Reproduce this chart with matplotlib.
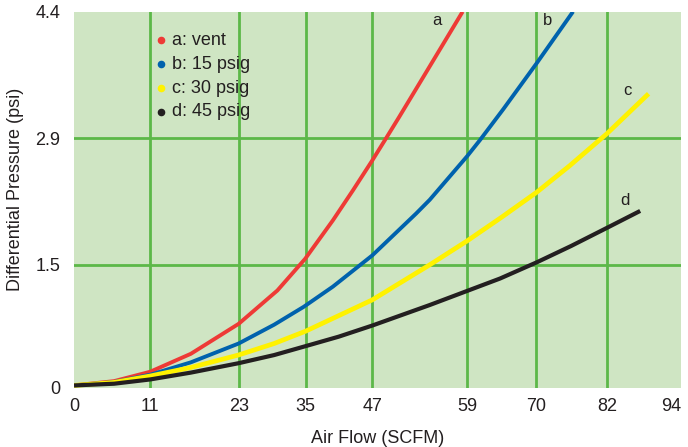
import matplotlib.pyplot as plt

plt.rcParams['font.family'] = ['Liberation Sans', 'DejaVu Sans']

# Tick positions (grid is not evenly spaced in the original) and their labels
x_tick_pos = [0, 11.8, 25.5, 35.9, 46.2, 60.9, 71.6, 82.6, 94]
x_tick_labels = ['0', '11', '23', '35', '47', '59', '70', '82', '94']
y_tick_pos = [0, 1.44, 2.92, 4.4]
y_tick_labels = ['0', '1.5', '2.9', '4.4']

# Curves (Air Flow SCFM, Differential Pressure psi)
a_x = [0, 6.2, 11.8, 18.1, 25.5, 31.5, 35.8, 40.1, 43.2, 46.2, 48.3, 50.3, 54.3, 60.2]
a_y = [0.03, 0.08, 0.19, 0.40, 0.75, 1.14, 1.51, 1.96, 2.31, 2.66, 2.915, 3.16, 3.66, 4.40]

b_x = [0, 6.2, 11.8, 18.1, 25.5, 31.0, 35.6, 40.1, 46.2, 53.0, 55.1, 60.9, 62.9, 66.5, 71.7, 77.3]
b_y = [0.03, 0.07, 0.155, 0.30, 0.52, 0.74, 0.95, 1.185, 1.55, 2.04, 2.20, 2.71, 2.90, 3.26, 3.80, 4.40]

c_x = [0, 6.2, 11.8, 18.1, 25.5, 31.0, 35.9, 46.2, 55.1, 60.9, 66.3, 71.7, 76.8, 82.5, 89.0]
c_y = [0.03, 0.065, 0.14, 0.24, 0.386, 0.52, 0.665, 1.03, 1.44, 1.72, 2.00, 2.29, 2.60, 2.97, 3.44]

d_x = [0, 6.2, 11.8, 18.1, 25.5, 31.0, 35.9, 41.0, 46.2, 55.1, 60.9, 66.0, 71.7, 77.0, 82.5, 87.7]
d_y = [0.03, 0.05, 0.10, 0.18, 0.29, 0.385, 0.49, 0.60, 0.73, 0.97, 1.135, 1.28, 1.47, 1.66, 1.87, 2.07]

series = [
    ('a: vent', 'a', a_x, a_y, '#ee3a36', 2.8, (56.2, 4.30)),
    ('b: 15 psig', 'b', b_x, b_y, '#0062ad', 2.8, (73.4, 4.30)),
    ('c: 30 psig', 'c', c_x, c_y, '#fff200', 3.4, (85.7, 3.48)),
    ('d: 45 psig', 'd', d_x, d_y, '#231f20', 3.0, (85.3, 2.19)),
]

text_col = '#231f20'
grid_col = '#5cb848'

fig = plt.figure(figsize=(6.88, 4.47), dpi=100)
ax = fig.add_axes([0.1076, 0.132, 0.882, 0.842])
ax.set_facecolor('#cfe5c3')

# interior grid lines only
for xv in x_tick_pos[1:-1]:
    ax.axvline(xv, color=grid_col, lw=2.0, zorder=1)
for yv in y_tick_pos[1:-1]:
    ax.axhline(yv, color=grid_col, lw=2.0, zorder=1)

for name, tag, xs, ys, col, lw, (tx, ty) in series:
    ax.plot(xs, ys, color=col, lw=lw, zorder=3, solid_capstyle='butt', solid_joinstyle='round')
    ax.text(tx, ty, tag, fontsize=12, color=text_col, ha='center', va='center', zorder=4)

# legend: coloured dot followed by text
for i, (name, tag, xs, ys, col, lw, pos) in enumerate(series):
    yy = 0.924 - i * 0.0635
    ax.scatter([0.143], [yy], s=20, color=col, transform=ax.transAxes, zorder=5, clip_on=False)
    ax.text(0.161, yy, name, transform=ax.transAxes, fontsize=13, color=text_col,
            ha='left', va='center', zorder=5)

ax.set_xlim(0, 94)
ax.set_ylim(0, 4.4)
ax.set_xticks(x_tick_pos)
ax.set_xticklabels(x_tick_labels)
ax.set_yticks(y_tick_pos)
ax.set_yticklabels(y_tick_labels)
ax.tick_params(length=0, labelsize=13, labelcolor=text_col)
ax.tick_params(axis='x', pad=7)
ax.tick_params(axis='y', pad=10)
# last x label would run off the figure edge
ax.get_xticklabels()[-1].set_horizontalalignment('right')
for sp in ax.spines.values():
    sp.set_visible(False)

ax.set_xlabel('Air Flow (SCFM)', fontsize=13, color=text_col, labelpad=11)
ax.set_ylabel('Differential Pressure (psi)', fontsize=13, color=text_col)
ax.yaxis.set_label_coords(-0.082, 0.528)

fig.savefig('out.png', dpi=100)
